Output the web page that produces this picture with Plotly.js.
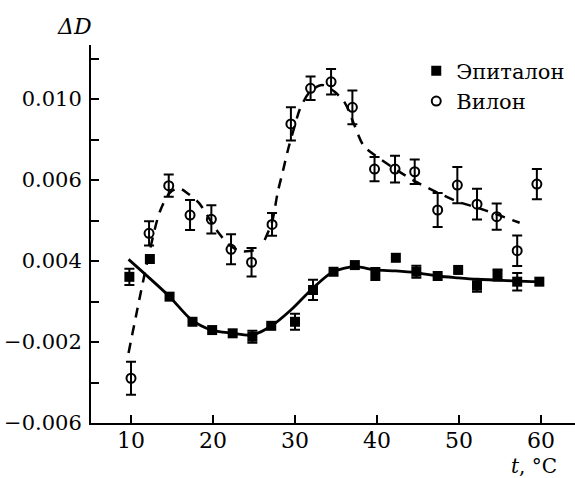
<!DOCTYPE html>
<html>
<head>
<meta charset="utf-8">
<script src="https://cdn.plot.ly/plotly-3.0.1.min.js"></script>
<style>html,body{margin:0;padding:0;background:#fff;}#chart{width:575px;height:478px;}</style>
</head>
<body>
<div id="chart"></div>
<script>
// Epitalon (filled squares)
const epiX = [9.8, 12.3, 14.7, 17.5, 19.9, 22.4, 24.8, 27.1, 30.0, 32.2, 34.7, 37.3, 39.8, 42.3, 44.8, 47.4, 49.9, 52.2, 54.7, 57.1, 59.8];
const epiY = [0.00122, 0.0021, 0.00024, -0.0010, -0.00141, -0.00157, -0.00174, -0.0012, -0.0010, 0.00057, 0.00147, 0.0018, 0.00136, 0.00216, 0.00147, 0.00126, 0.00156, 0.00078, 0.00131, 0.00098, 0.00098];
const epiErr = [0.0004, NaN, NaN, NaN, NaN, NaN, 0.0003, NaN, 0.0004, 0.0005, NaN, NaN, 0.0003, NaN, 0.0003, NaN, NaN, 0.0003, 0.00027, 0.00043, NaN];
// Vilon (open circles)
const vilX = [10.0, 12.2, 14.6, 17.2, 19.8, 22.2, 24.7, 27.2, 29.5, 31.9, 34.4, 37.0, 39.7, 42.2, 44.6, 47.4, 49.8, 52.2, 54.6, 57.1, 59.5];
const vilY = [-0.00379, 0.00337, 0.00572, 0.00427, 0.00406, 0.00258, 0.00194, 0.00381, 0.00877, 0.01053, 0.01085, 0.00959, 0.00654, 0.00654, 0.00641, 0.00452, 0.00575, 0.00481, 0.00419, 0.00251, 0.0058];
const vilErr = [0.00082, 0.0006, 0.00055, 0.00074, 0.0007, 0.00074, 0.0007, 0.00056, 0.00082, 0.00058, 0.00063, 0.00083, 0.0006, 0.00066, 0.0006, 0.00084, 0.0009, 0.00076, 0.00065, 0.00075, 0.00075];
// Fitted curves
const epiFitX = [9.7, 14.7, 17.4, 19.8, 22.3, 24.8, 27.1, 29.5, 32.2, 34.6, 37.3, 39.8, 42.3, 44.8, 47.4, 49.9, 52.2, 54.6, 57.1, 59.8];
const epiFitY = [0.00208, 0.00024, -0.00091, -0.00141, -0.00156, -0.00165, -0.00121, -0.00042, 0.00067, 0.00146, 0.00172, 0.00156, 0.00151, 0.00142, 0.00126, 0.00117, 0.0011, 0.00106, 0.00101, 0.00098];
const vilFit1X = [9.7, 11.0, 12.3, 13.5, 14.7, 15.8, 17.0, 18.3, 19.5, 20.7, 22.0, 23.3, 24.5, 25.5];
const vilFit1Y = [-0.00254, 0.00007, 0.00254, 0.00442, 0.00536, 0.0056, 0.00531, 0.00486, 0.00412, 0.00338, 0.00279, 0.00249, 0.00249, 0.00259];
const vilFit2X = [26.3, 27.2, 27.9, 28.5, 29.2, 30.0, 30.6, 31.8, 33.3, 34.8, 36.1, 37.1, 38.4, 40.4, 42.6, 44.9, 47.4, 49.8, 52.2, 54.5, 57.4];
const vilFit2Y = [0.00304, 0.00393, 0.00541, 0.0064, 0.00758, 0.00872, 0.00951, 0.01035, 0.01069, 0.01037, 0.0098, 0.00886, 0.00768, 0.00704, 0.00644, 0.00588, 0.00538, 0.00494, 0.00464, 0.00432, 0.00389];
// Axis ticks
const xTicks = [10, 20, 30, 40, 50, 60];
const yTickVals = [0.012, 0.010, 0.008, 0.006, 0.004, 0.002, 0.000, -0.002, -0.004, -0.006];
const yTickText = ["", "0.010", "", "0.006", "", "0.004", "", "\u22120.002", "", "\u22120.006"];
const seriesNames = ["Эпиталон", "Вилон"];

const serif = "DejaVu Serif, Liberation Serif, serif";
const traces = [
  {x: epiFitX, y: epiFitY, mode: "lines", line: {color: "#000", width: 2.8, shape: "spline", smoothing: 0.8}, showlegend: false, hoverinfo: "skip"},
  {x: vilFit1X, y: vilFit1Y, mode: "lines", line: {color: "#000", width: 2.5, dash: "10px,8px", shape: "spline", smoothing: 0.8}, showlegend: false, hoverinfo: "skip"},
  {x: vilFit2X, y: vilFit2Y, mode: "lines", line: {color: "#000", width: 2.5, dash: "10px,8px", shape: "spline", smoothing: 0.8}, showlegend: false, hoverinfo: "skip"},
  {x: epiX, y: epiY, name: seriesNames[0], mode: "markers", type: "scatter",
   marker: {symbol: "square", size: 10, color: "#000"},
   error_y: {type: "data", array: epiErr, visible: true, color: "#000", thickness: 2, width: 5}},
  {x: vilX, y: vilY, name: seriesNames[1], mode: "markers", type: "scatter",
   marker: {symbol: "circle-open", size: 9, color: "#000", line: {width: 2, color: "#000"}},
   error_y: {type: "data", array: vilErr, visible: true, color: "#000", thickness: 2, width: 5}}
];

const layout = {
  width: 575, height: 478,
  margin: {l: 91, r: 0, t: 45, b: 55},
  paper_bgcolor: "#fff", plot_bgcolor: "#fff",
  font: {family: serif, color: "#000", size: 22},
  showlegend: true,
  legend: {x: 0.672, y: 0.985, xanchor: "left", yanchor: "top", bgcolor: "rgba(0,0,0,0)", font: {family: serif, size: 21, color: "#000"}, tracegroupgap: 0},
  xaxis: {range: [5.12, 64.15], tickvals: xTicks, ticks: "inside", ticklen: 8, tickwidth: 2, tickcolor: "#000",
          showline: true, linewidth: 2, linecolor: "#000", showgrid: false, zeroline: false,
          tickfont: {family: serif, size: 22, color: "#000"}, ticklabelstandoff: -3},
  yaxis: {range: [-0.006, 0.01267], tickvals: yTickVals, ticktext: yTickText, ticks: "inside", ticklen: 8, tickwidth: 2, tickcolor: "#000",
          showline: true, linewidth: 2, linecolor: "#000", showgrid: false, zeroline: false,
          tickfont: {family: serif, size: 21, color: "#000"}, ticklabelstandoff: 3},
  annotations: [
    {text: "<i>\u0394D</i>", xref: "paper", yref: "paper", x: -0.035, y: 1.05, xanchor: "center", yanchor: "middle", showarrow: false, font: {family: serif, size: 22, color: "#000"}},
    {text: "<i>t</i>, \u00b0C", xref: "paper", yref: "paper", x: 0.915, y: -0.113, xanchor: "center", yanchor: "middle", showarrow: false, font: {family: serif, size: 20, color: "#000"}}
  ]
};

Plotly.newPlot("chart", traces, layout, {displayModeBar: false, staticPlot: true});
</script>
</body>
</html>
